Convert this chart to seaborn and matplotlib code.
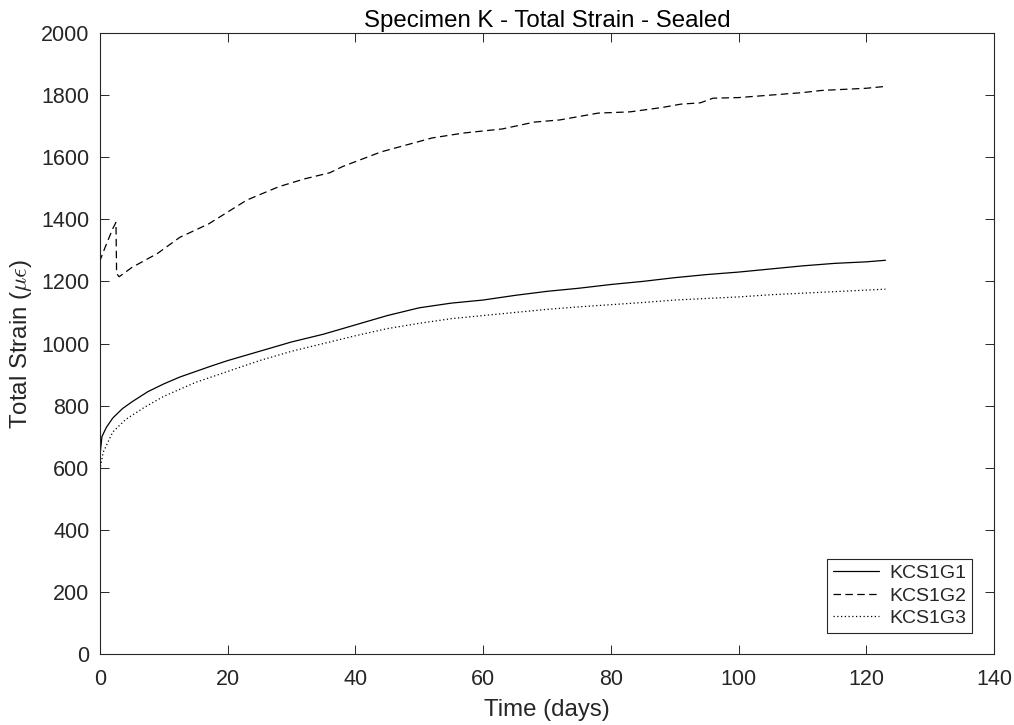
"""Specimen K total strain, sealed: MATLAB-style line chart."""

import matplotlib
matplotlib.use("Agg")
import matplotlib.pyplot as plt
import numpy as np
import pandas as pd
import seaborn as sns

# data
t_g1 = [0, 0.05, 0.3, 1, 2, 3.5, 5, 7.5, 10, 12.5, 15, 17.5, 20, 25, 30, 35, 40, 45, 50,
        55, 60, 65, 70, 75, 80, 85, 90, 95, 100, 105, 110, 115, 120, 123]
kcs1g1 = [0, 650, 700, 730, 760, 790, 812, 845, 870, 892, 910, 928, 945, 975, 1005, 1030,
          1060, 1090, 1115, 1130, 1140, 1155, 1168, 1178, 1190, 1200, 1212, 1222, 1230,
          1240, 1250, 1258, 1263, 1268]

t_g2 = [0, 0.05, 1, 2, 2.5, 2.6, 3, 5, 9, 12.5, 17, 23, 28, 32, 36, 38, 44, 52, 57, 63,
        68, 72, 78, 83, 88, 91, 94, 96, 100, 105, 110, 113, 116, 120, 123]
kcs1g2 = [0, 1270, 1320, 1370, 1390, 1225, 1215, 1245, 1290, 1342, 1385, 1462, 1505, 1530,
          1550, 1570, 1617, 1662, 1678, 1691, 1713, 1720, 1742, 1746, 1760, 1771, 1775,
          1790, 1792, 1800, 1808, 1815, 1818, 1822, 1828]

t_g3 = [0, 0.05, 0.5, 2, 4, 7, 10, 12, 15, 20, 25, 30, 35, 40, 45, 50, 55, 60, 65, 70, 75,
        80, 85, 90, 95, 100, 105, 110, 115, 120, 123]
kcs1g3 = [0, 600, 650, 715, 755, 795, 830, 848, 875, 910, 945, 975, 1000, 1025, 1048, 1065,
          1080, 1090, 1100, 1110, 1118, 1125, 1132, 1140, 1145, 1150, 1157, 1162, 1167,
          1172, 1175]

series = [
    ("KCS1G1", t_g1, kcs1g1, "-"),
    ("KCS1G2", t_g2, kcs1g2, (0, (6, 3.5))),
    ("KCS1G3", t_g3, kcs1g3, (0, (1, 2))),
]

sns.set_style("ticks")
plt.rcParams["font.family"] = ["Liberation Sans", "DejaVu Sans"]
plt.rcParams["mathtext.fontset"] = "cm"

fig = plt.figure(figsize=(10.14, 7.25), dpi=100)
ax = fig.add_axes([100 / 1014, 71 / 725, 894 / 1014, 621 / 725])

for name, t, y, ls in series:
    df = pd.DataFrame({"t": t, "strain": y})
    sns.lineplot(data=df, x="t", y="strain", ax=ax, estimator=None, sort=False,
                 color="black", linewidth=0.9, linestyle=ls, label=name)

axc = "#262626"
ax.set_xlim(0, 140)
ax.set_ylim(0, 2000)
ax.set_xticks(np.arange(0, 141, 20))
ax.set_yticks(np.arange(0, 2001, 200))
ax.tick_params(direction="in", top=True, right=True, labelsize=15.5, colors=axc,
               length=6.5, width=0.7)
ax.tick_params(axis="x", pad=11)
ax.tick_params(axis="y", pad=7.5)
for sp in ax.spines.values():
    sp.set_color(axc)
    sp.set_linewidth(0.8)

ax.set_title("Specimen K - Total Strain - Sealed", fontsize=17.3, color="black", pad=4.5)
ax.set_xlabel("Time (days)", fontsize=17.3, color=axc, labelpad=6)
ax.set_ylabel(r"Total Strain ($\mu\epsilon$)", fontsize=17.3, color=axc, labelpad=5)

leg = ax.legend(loc="lower right", fontsize=14, frameon=True, fancybox=False,
                edgecolor=axc, framealpha=1, handlelength=2.4, borderpad=0.3,
                labelspacing=0.25, handletextpad=0.5, borderaxespad=0)
leg.set_bbox_to_anchor((972 / 1014, (725 - 633) / 725), transform=fig.transFigure)
leg.get_frame().set_linewidth(0.8)

fig.savefig("out.png", dpi=100)
plt.close(fig)
